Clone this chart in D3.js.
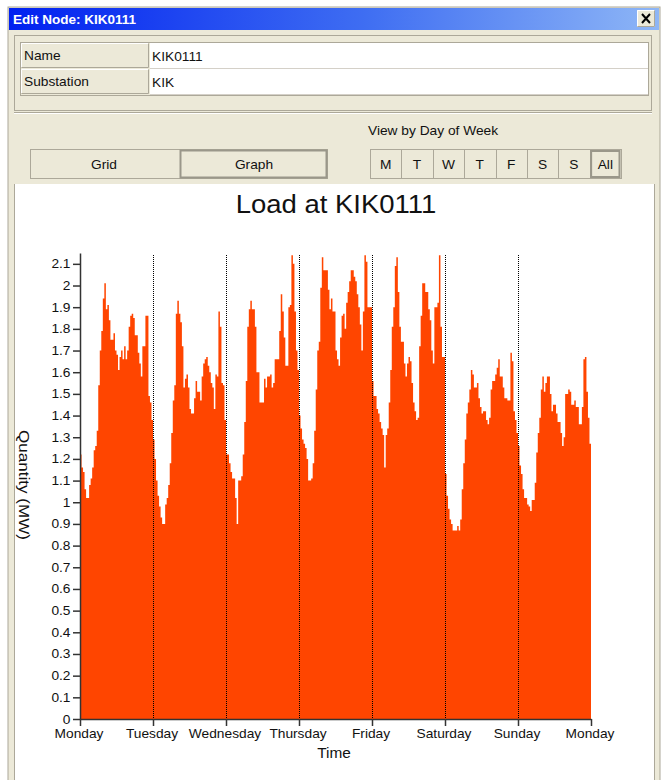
<!DOCTYPE html>
<html>
<head>
<meta charset="utf-8">
<script src="https://cdn.jsdelivr.net/npm/d3@7"></script>
<style>
body{margin:0;background:#fff;}
svg text{font-family:"Liberation Sans",Arial,sans-serif;fill:#111;}
</style>
</head>
<body>
<div id="win"></div>
<script>
// ---- data (half-hourly load, MW) ----
var dayLabels = ["Monday","Tuesday","Wednesday","Thursday","Friday","Saturday","Sunday","Monday"];
var dayButtons = ["M","T","W","T","F","S","S","All"];
var yTicks = [0,0.1,0.2,0.3,0.4,0.5,0.6,0.7,0.8,0.9,1,1.1,1.2,1.3,1.4,1.5,1.6,1.7,1.8,1.9,2,2.1];

var monday = [1.22,1.16,1.14,1.06,1.02,1.02,1.08,1.11,1.16,1.24,1.26,1.33,1.54,1.70,1.79,1.94,2.01,1.89,1.91,1.84,1.75,1.75,1.78,1.70,1.68,1.61,1.67,1.70,1.66,1.72,1.66,1.70,1.81,1.86,1.87,1.85,1.77,1.77,1.69,1.64,1.58,1.72,1.72,1.86,1.86,1.49,1.46,1.38];
var tuesday = [1.29,1.20,1.10,1.03,0.98,0.93,0.90,0.90,0.99,1.02,1.08,1.18,1.32,1.47,1.54,1.87,1.93,1.87,1.83,1.72,1.53,1.57,1.59,1.53,1.43,1.41,1.41,1.48,1.56,1.51,1.51,1.47,1.58,1.64,1.66,1.67,1.63,1.60,1.55,1.53,1.43,1.59,1.58,1.88,1.81,1.55,1.54,1.38];
var wednesday = [1.22,1.22,1.18,1.14,1.11,1.11,1.02,0.90,1.10,1.10,1.12,1.22,1.37,1.56,1.81,1.89,1.93,1.89,1.89,1.81,1.60,1.60,1.46,1.46,1.46,1.57,1.53,1.58,1.58,1.59,1.53,1.55,1.66,1.66,1.66,1.79,1.96,1.88,1.76,1.63,1.63,1.90,1.91,2.14,2.10,1.88,1.70,1.61];
var thursday = [1.40,1.34,1.29,1.27,1.25,1.20,1.10,1.10,1.11,1.18,1.33,1.52,1.70,1.74,1.99,2.13,2.07,2.07,2.07,1.98,1.89,1.94,1.88,1.88,1.70,1.66,1.63,1.76,1.86,1.87,1.80,1.92,1.97,2.02,2.07,2.07,2.04,2.02,1.96,1.90,1.82,1.70,1.88,2.14,2.11,1.90,1.90,1.90];
var friday = [1.56,1.49,1.49,1.43,1.41,1.37,1.34,1.31,1.16,1.31,1.34,1.46,1.61,1.81,1.90,2.09,2.13,1.97,1.81,1.74,1.74,1.64,1.58,1.64,1.67,1.65,1.55,1.46,1.42,1.38,1.39,1.72,1.86,2.01,2.01,1.97,1.97,1.89,1.84,1.70,1.64,1.90,1.90,1.92,2.14,1.81,1.67,1.67];
var saturday = [1.13,1.03,0.97,0.92,0.90,0.87,0.87,0.87,0.89,0.87,0.92,1.06,1.18,1.29,1.41,1.46,1.52,1.61,1.59,1.53,1.53,1.55,1.48,1.44,1.41,1.42,1.42,1.38,1.36,1.39,1.52,1.56,1.56,1.59,1.62,1.66,1.58,1.58,1.53,1.48,1.48,1.47,1.47,1.69,1.65,1.42,1.38,1.32];
var sunday = [1.26,1.17,1.13,1.06,1.02,1.02,0.99,0.98,0.96,1.01,1.01,1.09,1.23,1.32,1.39,1.52,1.58,1.51,1.55,1.58,1.58,1.50,1.42,1.45,1.45,1.41,1.37,1.37,1.32,1.26,1.30,1.50,1.50,1.52,1.51,1.45,1.45,1.47,1.44,1.44,1.36,1.36,1.44,1.66,1.67,1.51,1.39,1.27];

var load = monday.concat(tuesday, wednesday, thursday, friday, saturday, sunday);
var perDay = 48;

var W = 662, H = 780;
var sx = 1.1; // horizontal stretch of the screenshot text
var beige = "#ECE9D8", shadow = "#ACA899";

var svg = d3.select("#win").append("svg").attr("width", W).attr("height", H);

// texte avec etirement horizontal
function label(g, x, y, s, size, anchor, weight){
  return g.append("text")
    .attr("transform", "translate(" + x + "," + y + ") scale(" + sx + ",1)")
    .attr("text-anchor", anchor || "start")
    .style("font-size", size + "px")
    .style("font-weight", weight || "normal")
    .text(s);
}

// bouton en relief (style windows)
function raised(g, x, y, w, h, fill){
  g.append("rect").attr("x", x).attr("y", y).attr("width", w).attr("height", h).attr("fill", fill || beige);
  g.append("path").attr("fill", "none").attr("stroke", "#fff")
    .attr("d", "M" + (x + 0.5) + "," + (y + h - 1) + "V" + (y + 0.5) + "H" + (x + w - 1));
  g.append("path").attr("fill", "none").attr("stroke", shadow)
    .attr("d", "M" + (x + 0.5) + "," + (y + h - 0.5) + "H" + (x + w - 0.5) + "V" + (y + 0.5));
}

// ---- fenetre ----
var defs = svg.append("defs");
var grad = defs.append("linearGradient").attr("id", "tb").attr("x1", "0%").attr("x2", "100%");
grad.append("stop").attr("offset", "0%").attr("stop-color", "#0020F0");
grad.append("stop").attr("offset", "55%").attr("stop-color", "#3F6EF2");
grad.append("stop").attr("offset", "100%").attr("stop-color", "#8EB6F6");

svg.append("rect").attr("x", 8).attr("y", 7).attr("width", 652).attr("height", 780).attr("fill", beige)
  .attr("stroke", shadow);
svg.append("rect").attr("x", 9).attr("y", 8).attr("width", 650).attr("height", 22).attr("fill", "url(#tb)");
label(svg, 13, 24, "Edit Node: KIK0111", 12.3, "start", "bold").style("fill", "#fff");

// bouton fermer
raised(svg, 637, 10, 18, 17);
svg.append("path").attr("stroke", "#000").attr("stroke-width", 2)
  .attr("d", "M642,14L650,23M650,14L642,23");

// ---- groupe nom / poste ----
var form = svg.append("g");
form.append("rect").attr("x", 14.5).attr("y", 35.5).attr("width", 637).attr("height", 75)
  .attr("fill", "none").attr("stroke", shadow);
form.append("rect").attr("x", 20.5).attr("y", 42.5).attr("width", 628).attr("height", 53)
  .attr("fill", "none").attr("stroke", shadow);
var rows = [["Name", "KIK0111"], ["Substation", "KIK"]];
rows.forEach(function(r, i){
  var y0 = 43 + i * 26;
  raised(form, 21, y0, 128, 25);
  form.append("rect").attr("x", 150).attr("y", y0).attr("width", 498).attr("height", 25).attr("fill", "#fff");
  form.append("line").attr("x1", 150).attr("x2", 648).attr("y1", y0 + 25.5).attr("y2", y0 + 25.5).attr("stroke", "#d4d0c8");
  label(form, 24, y0 + 17, r[0], 12.5);
  label(form, 152, y0 + 18, r[1], 12.5);
});
form.append("line").attr("x1", 14).attr("x2", 652).attr("y1", 112.5).attr("y2", 112.5).attr("stroke", shadow);
form.append("line").attr("x1", 14).attr("x2", 652).attr("y1", 113.5).attr("y2", 113.5).attr("stroke", "#fff");

// ---- boutons ----
var btn = svg.append("g");
label(btn, 368, 135, "View by Day of Week", 12.5);
btn.append("rect").attr("x", 30.5).attr("y", 149.5).attr("width", 297).attr("height", 29)
  .attr("fill", beige).attr("stroke", shadow);
btn.append("rect").attr("x", 180.5).attr("y", 150.5).attr("width", 146).attr("height", 27)
  .attr("fill", beige).attr("stroke", "#9a978a").attr("stroke-width", 2);
label(btn, 104, 169, "Grid", 12.5, "middle");
label(btn, 254, 169, "Graph", 12.5, "middle");

var bx = d3.scaleBand().domain(d3.range(dayButtons.length)).range([370, 621]);
btn.append("rect").attr("x", 370.5).attr("y", 149.5).attr("width", 251).attr("height", 29)
  .attr("fill", beige).attr("stroke", shadow);
dayButtons.forEach(function(d, i){
  if (i > 0) btn.append("line").attr("x1", Math.round(bx(i)) + 0.5).attr("x2", Math.round(bx(i)) + 0.5)
    .attr("y1", 150).attr("y2", 178).attr("stroke", shadow);
  label(btn, bx(i) + bx.bandwidth() / 2, 169, d, 12.5, "middle");
});
btn.append("rect").attr("x", bx(7) + 1.5).attr("y", 151).attr("width", bx.bandwidth() - 3).attr("height", 26)
  .attr("fill", "none").attr("stroke", "#9a978a").attr("stroke-width", 2);

// ---- zone graphique ----
svg.append("rect").attr("x", 15).attr("y", 184).attr("width", 639).attr("height", 600).attr("fill", "#fff");
svg.append("line").attr("x1", 14.5).attr("x2", 14.5).attr("y1", 184).attr("y2", 780).attr("stroke", shadow);
svg.append("line").attr("x1", 654.5).attr("x2", 654.5).attr("y1", 184).attr("y2", 780).attr("stroke", shadow);

var x = d3.scaleLinear().domain([0, load.length]).range([80, 591]);
var y = d3.scaleLinear().domain([0, 2.15]).range([719, 253]);

var chart = svg.append("g");

var area = d3.area()
  .x(function(d, i){ return x(i); })
  .y0(y(0))
  .y1(function(d){ return y(d); })
  .curve(d3.curveStepAfter);

chart.append("path")
  .datum(load.concat([load[load.length - 1]]))
  .attr("fill", "#FF4500")
  .attr("d", area);

// separateurs de jours
d3.range(1, 7).forEach(function(k){
  chart.append("line")
    .attr("x1", Math.round(x(k * perDay)) + 0.5).attr("x2", Math.round(x(k * perDay)) + 0.5)
    .attr("y1", y(2.15) + 2).attr("y2", y(0))
    .attr("stroke", "#000").attr("stroke-dasharray", "1,1");
});

// axes
var fmt = function(d){ return String(+d.toFixed(1)); };
var yAxis = chart.append("g").attr("transform", "translate(80,0)")
  .call(d3.axisLeft(y).tickValues(yTicks).tickFormat(fmt).tickSize(7).tickSizeOuter(0));
yAxis.selectAll("text").attr("x", -9.5 / sx).attr("transform", "scale(" + sx + ",1)")
  .style("font-size", "12.5px");

var xAxis = chart.append("g").attr("transform", "translate(0,719)")
  .call(d3.axisBottom(x).tickValues(d3.range(0, load.length + 1, perDay))
    .tickFormat(function(d, i){ return dayLabels[i]; }).tickSize(7).tickSizeOuter(0));
xAxis.selectAll("text").attr("x", -1.5 / sx).attr("transform", "scale(" + sx + ",1)")
  .style("font-size", "12.5px");

svg.selectAll(".domain, .tick line").attr("stroke", "#333").attr("stroke-width", 1.5);
svg.selectAll(".tick text").style("fill", "#111").style("font-family", "'Liberation Sans',Arial,sans-serif");

// titres
label(chart, 336, 213, "Load at KIK0111", 25, "middle");
label(chart, 334, 758, "Time", 14, "middle");
chart.append("text")
  .attr("transform", "translate(19,485) rotate(90) scale(" + sx + ",1)")
  .attr("text-anchor", "middle")
  .style("font-size", "15.5px")
  .text("Quantity (MW)");
</script>
</body>
</html>
